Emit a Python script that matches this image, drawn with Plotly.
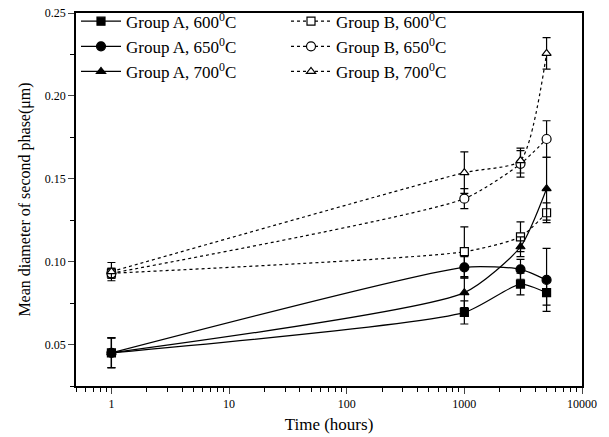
import plotly.graph_objects as go
import numpy as np

time_h = [1, 1000, 3000, 5000]

a600 = [0.045, 0.0694, 0.0865, 0.0813]
a650 = [0.045, 0.0966, 0.0954, 0.0890]
a700 = [0.045, 0.0813, 0.1090, 0.1440]
b600 = [0.093, 0.1060, 0.1150, 0.1295]
b650 = [0.093, 0.1380, 0.1590, 0.1740]
b700 = [0.094, 0.1537, 0.1610, 0.2256]

a600_err = [0.0090, 0.0070, 0.0065, 0.0075]
a650_err = [0.0090, 0.0065, 0.0060, 0.0190]
a700_err = [0.0090, 0.0090, 0.0060, 0.0190]
b600_err = [0.0030, 0.0150, 0.0090, 0.0060]
b650_err = [0.0030, 0.0060, 0.0080, 0.0110]
b700_err = [0.0055, 0.0125, 0.0075, 0.0095]

labels = ["Group A, 600<sup>0</sup>C", "Group B, 600<sup>0</sup>C",
          "Group A, 650<sup>0</sup>C", "Group B, 650<sup>0</sup>C",
          "Group A, 700<sup>0</sup>C", "Group B, 700<sup>0</sup>C"]

series = [
    (a600, a600_err, "square", True),
    (b600, b600_err, "square", False),
    (a650, a650_err, "circle", True),
    (b650, b650_err, "circle", False),
    (a700, a700_err, "triangle-up", True),
    (b700, b700_err, "triangle-up", False),
]

fig = go.Figure()
for (vals, errs, sym, solid), name in zip(series, labels):
    fig.add_trace(go.Scatter(
        x=time_h, y=vals, name=name, mode="lines+markers",
        line=dict(color="black", width=1.2, shape="spline", smoothing=0.6,
                  dash="solid" if solid else "3px,3px"),
        marker=dict(symbol=sym, size=9 if sym == "circle" else 8,
                    color="black" if solid else "white",
                    line=dict(color="black", width=1.2)),
        error_y=dict(type="data", array=errs, color="black", thickness=1.2, width=4),
    ))

major_y = [0.05, 0.10, 0.15, 0.20, 0.25]
minor_y = [0.025, 0.075, 0.125, 0.175, 0.225]
major_x = [1, 10, 100, 1000, 10000]
minor_x = [m * d for d in [0.1, 1, 10, 100, 1000] for m in range(2, 10) if m * d >= 0.5]

serif = "Liberation Serif"
fig.update_layout(
    width=609, height=437,
    margin=dict(l=76, r=27, t=13, b=51, autoexpand=False),
    paper_bgcolor="white", plot_bgcolor="white",
    font=dict(family=serif, color="black"),
    showlegend=True,
    legend=dict(orientation="h", x=0.0, y=1.025, xanchor="left", yanchor="top",
                entrywidth=155, entrywidthmode="pixels", itemwidth=40,
                font=dict(family=serif, size=17), bgcolor="rgba(0,0,0,0)",
                tracegroupgap=0),
    xaxis=dict(type="log", range=[np.log10(0.5), 4], showline=True, mirror=True,
               linecolor="black", linewidth=1.5, ticks="outside", ticklen=6,
               tickvals=major_x, ticktext=["1", "10", "100", "1000", "10000"],
               showgrid=False, zeroline=False, tickfont=dict(size=12),
               minor=dict(tickvals=minor_x, ticks="outside", ticklen=4, tickcolor="black", showgrid=False),
               title=dict(text="Time (hours)", font=dict(size=17), standoff=8)),
    yaxis=dict(range=[0.025, 0.25], showline=True, mirror=True,
               linecolor="black", linewidth=1.5, ticks="outside", ticklen=6,
               tickvals=major_y, tickformat=".2f", showgrid=False, zeroline=False,
               tickfont=dict(size=12),
               minor=dict(tickvals=minor_y, ticks="outside", ticklen=4, tickcolor="black", showgrid=False),
               title=dict(text="Mean diameter of second phase(μm)", font=dict(size=16), standoff=10)),
)

fig.write_html("out.html")
